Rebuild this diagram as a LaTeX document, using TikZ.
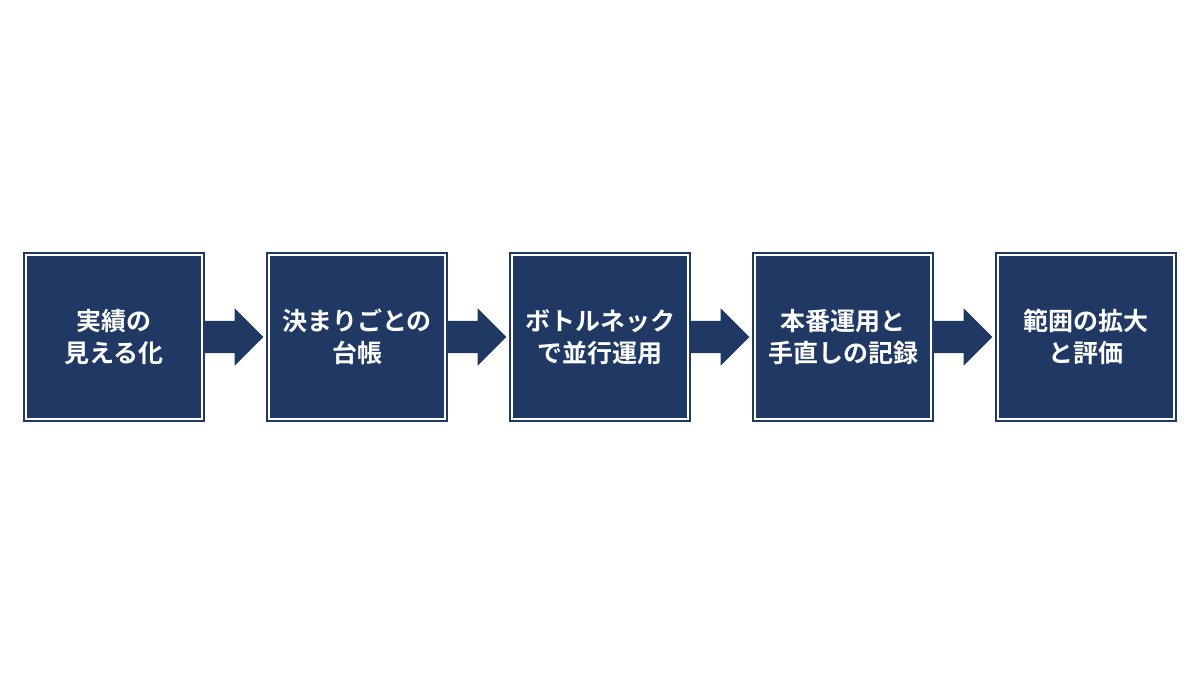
\documentclass[tikz,border=0pt]{standalone}
\usepackage{fontspec}
\usepackage{xcolor}
\usepackage{tikz}
\usetikzlibrary{shapes,shapes.arrows}

\newfontfamily\jpfont{Noto Sans CJK JP}[BoldFont={* Bold}]
\definecolor{navy}{RGB}{31,56,100}

\begin{document}
\begin{tikzpicture}[x=1pt,y=1pt]
      \tikzstyle{step_box}=[draw=navy, fill=navy, line width=2.4pt, double=white, double distance=1.3pt,
        minimum width=176pt, minimum height=164pt, inner sep=0pt, align=center,
        text=white, font=\jpfont\bfseries\fontsize{25pt}{32pt}\selectfont]
      \tikzstyle{flow_arrow}=[single arrow, fill=navy, draw=none, inner xsep=0pt, inner ysep=16pt,
        minimum height=60pt, single arrow head extend=12.5pt,
        single arrow tip angle=90, shape border rotate=0, anchor=tail]

      \useasboundingbox (-114,-338) rectangle (1086,337);

      \node [step_box] (S1) {実績の\\見える化};
      \node [step_box] (S2) at (243,0) {決まりごとの\\台帳};
      \node [step_box] (S3) at (486,0) {ボトルネック\\で並行運用};
      \node [step_box] (S4) at (729,0) {本番運用と\\手直しの記録};
      \node [step_box] (S5) at (972,0) {範囲の拡大\\と評価};

      \node [flow_arrow] (A1) at (S1.east) {};
      \node [flow_arrow] (A2) at (S2.east) {};
      \node [flow_arrow] (A3) at (S3.east) {};
      \node [flow_arrow] (A4) at (S4.east) {};

    \end{tikzpicture}
\end{document}
